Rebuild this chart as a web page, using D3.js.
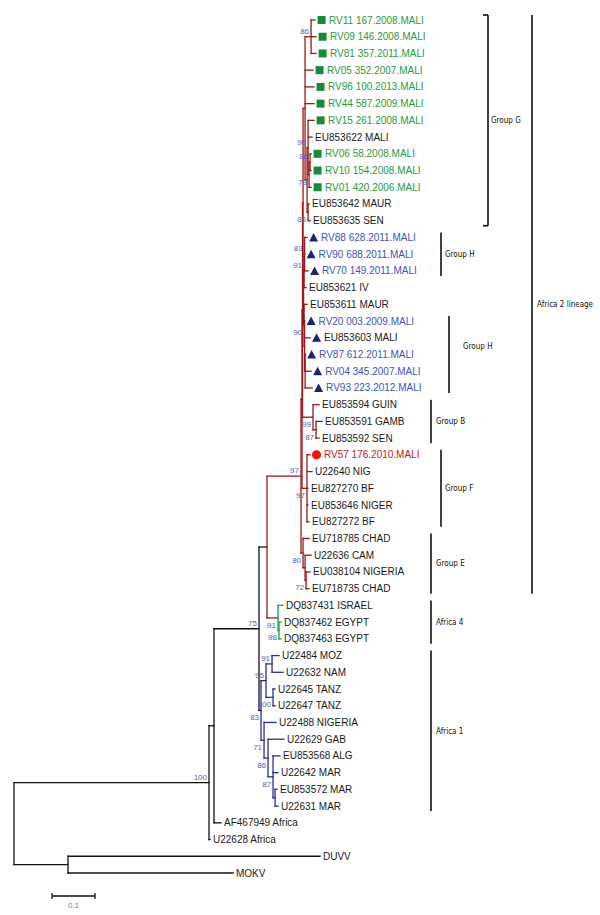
<!DOCTYPE html>
<html><head><meta charset="utf-8">
<script src="https://cdn.jsdelivr.net/npm/d3@7"></script>
<style>html,body{margin:0;padding:0;background:#fff}</style>
</head><body>
<svg id="chart" width="600" height="915" xmlns="http://www.w3.org/2000/svg"></svg>
<script>
// ---------------- DATA ----------------
// Sub-trees in Newick form (branch lengths in substitutions/site, internal labels = bootstrap %)
const cladeGroupG = "(('RV11 167.2008.MALI':0.0093,'RV09 146.2008.MALI':0.0116,'RV81 357.2011.MALI':0.0116)86:0.0140,'RV05 352.2007.MALI':0.0186,'RV96 100.2013.MALI':0.0209,'RV44 587.2009.MALI':0.0209,(('RV15 261.2008.MALI':0.0140,'EU853622 MALI':0.0093,(('RV06 58.2008.MALI':0.0023,'RV10 154.2008.MALI':0.0023)86:0.0023,'RV01 420.2006.MALI':0.0047)78:0.0023)90:0.0023,('EU853642 MAUR':0.0023,'EU853635 SEN':0.0047)85:0.0023):0.0047)";
const cladeGroupH = "((('RV88 628.2011.MALI':0.0058,'RV90 688.2011.MALI':0,'RV70 149.2011.MALI':0.0081)83:0.0012,'EU853621 IV':0.0047)91:0.0012,('EU853611 MAUR':0.0070,('RV20 003.2009.MALI':0,'EU853603 MALI':0.0128,('RV87 612.2011.MALI':0,'RV04 345.2007.MALI':0.0140,'RV93 223.2012.MALI':0.0163):0.0012):0.0012)90:0.0012)";
const cladeGroupB = "('EU853594 GUIN':0.0140,('EU853591 GAMB':0.0140,'EU853592 SEN':0.0070)87:0.0070)";
const cladeGroupF = "('RV57 176.2010.MALI':0.0070,'U22640 NIG':0.0116,'EU827270 BF':0.0023,'EU853646 NIGER':0.0023,'EU827272 BF':0.0047)";
const cladeGroupE = "('EU718785 CHAD':0.0140,('U22636 CAM':0.0140,('EU038104 NIGERIA':0.0093,'EU718735 CHAD':0.0070)72:0.0023):0.0047)";
const cladeAfrica4 = "('DQ837431 ISRAEL':0.0116,('DQ837462 EGYPT':0.0047,'DQ837463 EGYPT':0.0047)98:0.0023)";
const cladeAfrica1 = "((('U22484 MOZ':0.0163,'U22632 NAM':0.0256)91:0.0140,('U22645 TANZ':0.0047,'U22647 TANZ':0.0047)100:0.0163)95:0.0116,('U22488 NIGERIA':0.0279,('U22629 GAB':0.0372,('EU853568 ALG':0.0163,'U22642 MAR':0.0116,('EU853572 MAR':0.0047,'U22631 MAR':0.0070):0.0047)87:0.0116)86:0.0093)71:0.0070)";
const cladeOutgroup = "('DUVV':0.5860,'MOKV':0.3837)";

const squareTaxa = ["RV11 167.2008.MALI","RV09 146.2008.MALI","RV81 357.2011.MALI","RV05 352.2007.MALI","RV96 100.2013.MALI","RV44 587.2009.MALI","RV15 261.2008.MALI","RV06 58.2008.MALI","RV10 154.2008.MALI","RV01 420.2006.MALI"];
const triangleTaxa = ["RV88 628.2011.MALI","RV90 688.2011.MALI","RV70 149.2011.MALI","RV20 003.2009.MALI","EU853603 MALI","RV87 612.2011.MALI","RV04 345.2007.MALI","RV93 223.2012.MALI"];
const blueLabelTaxa = ["RV88 628.2011.MALI","RV90 688.2011.MALI","RV70 149.2011.MALI","RV20 003.2009.MALI","RV87 612.2011.MALI","RV04 345.2007.MALI","RV93 223.2012.MALI"];
const circleTaxa = ["RV57 176.2010.MALI"];

const coloredClades = [
  {clade: "Africa 2", from: "RV11 167.2008.MALI", to: "DQ837463 EGYPT"},
  {clade: "Africa 4", from: "DQ837431 ISRAEL", to: "DQ837463 EGYPT"},
  {clade: "Africa 1", from: "U22484 MOZ", to: "U22631 MAR"}
];

const brackets = [
  {label: "Group G", first: "RV11 167.2008.MALI", last: "EU853635 SEN"},
  {label: "Group H", first: "RV88 628.2011.MALI", last: "RV70 149.2011.MALI"},
  {label: "Group H", first: "RV20 003.2009.MALI", last: "RV93 223.2012.MALI"},
  {label: "Group B", first: "EU853594 GUIN", last: "EU853592 SEN"},
  {label: "Group F", first: "RV57 176.2010.MALI", last: "EU827272 BF"},
  {label: "Group E", first: "EU718785 CHAD", last: "EU718735 CHAD"},
  {label: "Africa 4", first: "DQ837431 ISRAEL", last: "DQ837463 EGYPT"},
  {label: "Africa 1", first: "U22484 MOZ", last: "U22631 MAR"},
  {label: "Africa 2 lineage", first: "RV11 167.2008.MALI", last: "EU718735 CHAD"}
];

const scaleBarValue = 0.1;

// assemble full tree
const tGH  = `(${cladeGroupG}:0.0047,${cladeGroupH}:0.0012)`;
const tGHB = `(${tGH}:0.0012,${cladeGroupB}99:0.0244)`;
const tX   = `(${tGHB}:0.0012,${cladeGroupF}97:0.0116)`;
const tA2  = `(${tX}:0.0023,${cladeGroupE}80:0.0047)`;
const tD   = `(${tA2}97:0.0791,${cladeAfrica4}91:0.0256)`;
const tC   = `(${tD}:0.0186,${cladeAfrica1}83:0.0047)`;
const tB   = `(${tC}75:0.1047,'AF467949 Africa':0.0163)`;
const tA   = `(${tB}:0.0116,'U22628 Africa':0.0023)`;
const newick = `(${tA}100:0.4535,${cladeOutgroup}:0.1256);`;

// ---------------- PARSER ----------------
function parseNewick(s) {
  let i = 0;
  const ws = () => { while (i < s.length && /\s/.test(s[i])) i++; };
  function label() {
    ws();
    if (s[i] === "'") { const j = s.indexOf("'", i + 1); const t = s.slice(i + 1, j); i = j + 1; return t; }
    let t = ""; while (i < s.length && !",():;".includes(s[i])) t += s[i++]; return t.trim();
  }
  function node() {
    ws();
    const n = {children: [], name: "", length: 0};
    if (s[i] === "(") {
      i++;
      while (true) { n.children.push(node()); ws(); if (s[i] === ",") { i++; continue; } break; }
      i++; // ')'
    }
    n.name = label(); ws();
    if (s[i] === ":") { i++; let t = ""; while (i < s.length && !",();".includes(s[i])) t += s[i++]; n.length = parseFloat(t); }
    return n;
  }
  return node();
}

// ---------------- LAYOUT ----------------
const svg = d3.select("#chart");
svg.append("rect").attr("width", 600).attr("height", 915).attr("fill", "#fff");

const root = d3.hierarchy(parseNewick(newick), d => d.children.length ? d.children : null);
const leaves = root.leaves();
const xScale = d3.scaleLinear().domain([0, 1]).range([14, 444]);
const yScale = d3.scaleLinear().domain([0, leaves.length - 1]).range([20, 873]);

root.eachBefore(n => { n.dist = n.parent ? n.parent.dist + n.data.length : 0; n.px = xScale(n.dist); });
leaves.forEach((l, k) => l.py = yScale(k));
root.eachAfter(n => { if (n.children) n.py = (n.children[0].py + n.children[n.children.length - 1].py) / 2; });

const byName = new Map(leaves.map(l => [l.data.name, l]));
function mrca(a, b) { const s = new Set(byName.get(a).ancestors()); return byName.get(b).ancestors().find(n => s.has(n)); }

const cladeColor = {"Africa 2": "#9a1818", "Africa 4": "#1f9d4a", "Africa 1": "#2b2b9c"};
const cladeRoots = new Map(coloredClades.map(c => [mrca(c.from, c.to), cladeColor[c.clade]]));
root.eachBefore(n => { n.color = cladeRoots.get(n) || (n.parent ? n.parent.color : "#111"); });

// ---------------- BRANCHES ----------------
const gTree = svg.append("g").attr("fill", "none").attr("stroke-width", 1.3).attr("stroke-linecap", "square");
root.descendants().filter(n => n.parent).forEach(n => {
  gTree.append("line").attr("x1", n.parent.px).attr("x2", n.px).attr("y1", n.py).attr("y2", n.py).attr("stroke", n.parent.color);
});
root.descendants().filter(n => n.children).forEach(n => {
  gTree.append("line").attr("x1", n.px).attr("x2", n.px)
    .attr("y1", n.children[0].py).attr("y2", n.children[n.children.length - 1].py).attr("stroke", n.color);
});

// ---------------- BOOTSTRAP ----------------
const gBoot = svg.append("g").attr("font-family", "Arial, 'Liberation Sans', sans-serif").attr("font-size", 8).attr("fill", "#4f60bf").attr("text-anchor", "end");
root.descendants().filter(n => n.children && n.data.name !== "").forEach(n => {
  const first = !n.parent || n.parent.children[0] === n;
  gBoot.append("text").attr("x", n.px - 2).attr("y", first ? n.py - 3 : n.py + 10).text(n.data.name);
});

// ---------------- LEAVES ----------------
const gLeaf = svg.append("g").attr("font-family", "Arial, 'Liberation Sans', sans-serif").attr("font-size", 10);
leaves.forEach(l => {
  const nm = l.data.name, x = l.px, y = l.py;
  let marked = true;
  if (squareTaxa.includes(nm)) {
    gLeaf.append("rect").attr("x", x + 2.5).attr("y", y - 4).attr("width", 8).attr("height", 8).attr("fill", "#188a3c");
  } else if (triangleTaxa.includes(nm)) {
    gLeaf.append("path").attr("d", `M${x + 2},${y + 4}L${x + 11},${y + 4}L${x + 6.5},${y - 4.5}Z`).attr("fill", "#1d2470");
  } else if (circleTaxa.includes(nm)) {
    gLeaf.append("circle").attr("cx", x + 6.5).attr("cy", y).attr("r", 4.6).attr("fill", "#f21717");
  } else marked = false;
  const col = squareTaxa.includes(nm) ? "#2a9a3e" : blueLabelTaxa.includes(nm) ? "#3f52c2" : circleTaxa.includes(nm) ? "#c41a1a" : "#1a1a1a";
  gLeaf.append("text").attr("x", x + (marked ? 14 : 3)).attr("y", y).attr("dy", "0.35em").attr("fill", col).text(nm);
});

// ---------------- BRACKETS ----------------
const bracketX = [488, 441, 449, 431, 441, 431, 431, 431, 532];
const bracketLabelDx = [3, 4, 14, 5, 4, 5, 5, 5, 5];
const bracketLabelDy = [0, 0, -8, 0, 0, 0, 0, 0, 0];
const gBr = svg.append("g").attr("font-family", "Tahoma, 'DejaVu Sans Condensed', 'Liberation Sans', sans-serif").attr("font-size", 8).attr("fill", "#111");
brackets.forEach((b, k) => {
  const y1 = byName.get(b.first).py - 5, y2 = byName.get(b.last).py + 5, bx = bracketX[k];
  gBr.append("line").attr("x1", bx).attr("x2", bx).attr("y1", y1).attr("y2", y2).attr("stroke", "#111").attr("stroke-width", 1.6);
  if (k === 0) {
    gBr.append("line").attr("x1", bx - 5).attr("x2", bx).attr("y1", y1).attr("y2", y1).attr("stroke", "#111").attr("stroke-width", 1.6);
    gBr.append("line").attr("x1", bx - 5).attr("x2", bx).attr("y1", y2).attr("y2", y2).attr("stroke", "#111").attr("stroke-width", 1.6);
  }
  gBr.append("text").attr("x", bx + bracketLabelDx[k]).attr("y", (y1 + y2) / 2 + bracketLabelDy[k]).attr("dy", "0.35em").text(b.label);
});

// ---------------- SCALE BAR ----------------
const barX0 = 52, barY = 896, barW = xScale(scaleBarValue) - xScale(0);
const gSb = svg.append("g").attr("stroke", "#111").attr("stroke-width", 1.3);
gSb.append("line").attr("x1", barX0).attr("x2", barX0 + barW).attr("y1", barY).attr("y2", barY);
gSb.append("line").attr("x1", barX0).attr("x2", barX0).attr("y1", barY - 3).attr("y2", barY + 3);
gSb.append("line").attr("x1", barX0 + barW).attr("x2", barX0 + barW).attr("y1", barY - 3).attr("y2", barY + 3);
svg.append("text").attr("x", barX0 + barW / 2).attr("y", barY + 12).attr("text-anchor", "middle")
  .attr("font-family", "Arial, 'Liberation Sans', sans-serif").attr("font-size", 8).attr("fill", "#2f9a9a").text(String(scaleBarValue));
</script>
</body></html>
